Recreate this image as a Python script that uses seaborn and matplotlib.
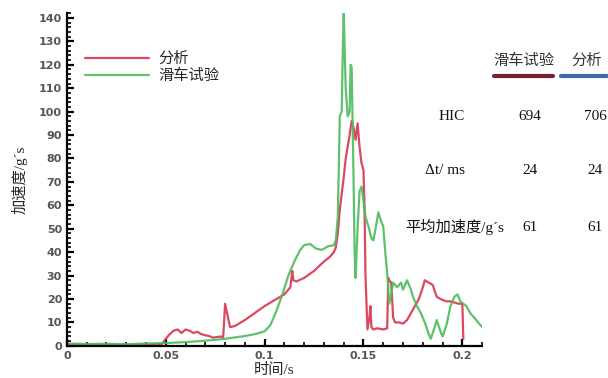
import pandas as pd
import seaborn as sns
import matplotlib.pyplot as plt
from matplotlib.lines import Line2D
from matplotlib.ticker import MultipleLocator

# sled test curve (green)
test_t = [0, 0.01, 0.02, 0.03, 0.04, 0.05, 0.06, 0.07, 0.08, 0.085, 0.09, 0.095, 0.1,
          0.103, 0.106, 0.109, 0.112, 0.115, 0.118, 0.12, 0.123, 0.126, 0.129, 0.132,
          0.135, 0.136, 0.137, 0.1375, 0.138, 0.139, 0.1395, 0.14, 0.1405, 0.141, 0.142,
          0.143, 0.1435, 0.144, 0.1445, 0.145, 0.1455, 0.146, 0.147, 0.148, 0.149, 0.15,
          0.151, 0.1525, 0.154, 0.155, 0.1565, 0.1575, 0.159, 0.16, 0.161, 0.162, 0.163,
          0.164, 0.165, 0.167, 0.169, 0.17, 0.172, 0.174, 0.175, 0.177, 0.179, 0.181,
          0.183, 0.184, 0.186, 0.187, 0.189, 0.19, 0.192, 0.194, 0.196, 0.1975, 0.199,
          0.2005, 0.202, 0.204, 0.206, 0.208, 0.21]
test_acc = [1, 0.8, 0.9, 0.7, 1.0, 1.2, 1.6, 2.2, 3.0, 3.6, 4.2, 5.0, 6.2,
            9, 15, 22, 30, 36, 41, 43, 43.5, 41.5, 41, 42.5,
            43, 45, 55, 75, 98, 100, 125, 142, 126, 110, 98,
            100, 120, 119, 95, 70, 40, 29, 50, 66, 68, 62,
            55, 51, 46, 45, 52, 57, 53, 51, 40, 31, 18,
            22, 27, 25, 27, 24, 28, 24, 21, 17, 14, 10,
            5, 3, 8, 11, 6, 4, 9, 17, 21, 22, 19,
            18, 17, 14, 12, 10, 8]

# simulation curve (red)
sim_t = [0, 0.01, 0.02, 0.03, 0.04, 0.048, 0.05, 0.052, 0.054, 0.056, 0.058, 0.06,
         0.062, 0.064, 0.066, 0.068, 0.07, 0.072, 0.074, 0.076, 0.078, 0.079, 0.0795,
         0.08, 0.081, 0.0825, 0.085, 0.09, 0.095, 0.1, 0.105, 0.11, 0.113, 0.114,
         0.1145, 0.116, 0.12, 0.125, 0.13, 0.133, 0.135, 0.136, 0.137, 0.138, 0.139,
         0.14, 0.141, 0.142, 0.143, 0.144, 0.145, 0.146, 0.147, 0.148, 0.149, 0.15,
         0.1505, 0.151, 0.152, 0.153, 0.1535, 0.154, 0.155, 0.157, 0.16, 0.162, 0.1625,
         0.163, 0.164, 0.165, 0.166, 0.168, 0.17, 0.172, 0.174, 0.176, 0.178, 0.18,
         0.181, 0.183, 0.185, 0.187, 0.189, 0.19, 0.192, 0.194, 0.196, 0.198, 0.1995,
         0.2, 0.2005]
sim_acc = [0.5, 0.4, 0.5, 0.4, 0.5, 0.8, 3, 5, 6.5, 7, 5.5, 7,
           6.5, 5.5, 6, 5, 4.5, 4.2, 3.5, 3.8, 4, 3.5, 10,
           18, 14, 8, 8.5, 11, 14, 17, 19.5, 22, 25, 32,
           28, 27.5, 29, 32, 36, 38, 40, 42, 48, 58, 65,
           72, 80, 85, 90, 96, 93, 88, 95, 85, 78, 75,
           60, 30, 7, 12, 17, 8, 7, 7.5, 7, 7.5, 29,
           28, 27, 12, 10, 10, 9.5, 11, 14, 17, 20, 25,
           28, 27, 26, 21, 20, 19.6, 19, 19, 18.5, 18, 18,
           17.5, 3]

# table on the right
table_cols = ["滑车试验", "分析"]
table_rows = ["HIC", "Δt/ ms", "平均加速度/g´s"]
table_test = ["694", "24", "61"]
table_sim = ["706", "24", "61"]

sns.set_style("ticks")
plt.rcParams['font.family'] = ['Noto Sans CJK SC', 'DejaVu Sans']

red = "#d8344f"
green = "#4cbb5c"

fig = plt.figure(figsize=(6.08, 3.78), dpi=100)
ax = fig.add_axes([0.110, 0.085, 0.683, 0.880])

sim = pd.DataFrame({"t": sim_t, "acc": sim_acc})
test = pd.DataFrame({"t": test_t, "acc": test_acc})
sns.lineplot(data=sim, x="t", y="acc", sort=False, estimator=None, color=red,
             lw=1.6, alpha=0.9, ax=ax, label="分析")
sns.lineplot(data=test, x="t", y="acc", sort=False, estimator=None, color=green,
             lw=1.6, alpha=0.9, ax=ax, label="滑车试验")

ax.set_xlim(0, 0.21)
ax.set_ylim(0, 142)
ax.xaxis.set_major_locator(MultipleLocator(0.05))
ax.xaxis.set_minor_locator(MultipleLocator(0.01))
ax.yaxis.set_major_locator(MultipleLocator(10))
ax.yaxis.set_minor_locator(MultipleLocator(2))
ax.set_xticks([0, 0.05, 0.1, 0.15, 0.2])
ax.set_xticklabels(["0", "0.05", "0.1", "0.15", "0.2"])
ax.tick_params(which="major", direction="in", length=5, width=1.6, colors="black",
               labelcolor="#555555", labelsize=8)
ax.tick_params(which="minor", direction="in", length=3, width=1.2, colors="black")
for lab in ax.get_xticklabels() + ax.get_yticklabels():
    lab.set_fontweight("bold")
    lab.set_family("DejaVu Sans")
for s in ["top", "right"]:
    ax.spines[s].set_visible(False)
for s in ["left", "bottom"]:
    ax.spines[s].set_linewidth(1.6)
    ax.spines[s].set_color("black")

serif = ["Liberation Serif", "Noto Sans CJK SC"]
ax.set_xlabel("时间/s", fontsize=11, family=serif)
ax.xaxis.label.set_va("center")
ax.xaxis.set_label_coords(0.5, -0.072)
ax.set_ylabel("加速度/g´s", fontsize=11, family=serif)
ax.yaxis.label.set_va("center")
ax.yaxis.set_label_coords(-0.113, 0.5)

ax.legend(loc="upper left", bbox_to_anchor=(0.01, 0.93), frameon=False, fontsize=11,
          handlelength=4.2, handletextpad=0.6, labelspacing=0.0)

W, H = 608, 378
def ft(x, y, s, **kw):
    fig.text(x / W, 1 - y / H, s, ha="center", va="center", **kw)

ft(524, 60, table_cols[0], fontsize=11, color="#333333")
ft(587, 60, table_cols[1], fontsize=11, color="#333333")
fig.add_artist(Line2D([494 / W, 553 / W], [1 - 76 / H] * 2, color="#7a1f2e", lw=3))
fig.add_artist(Line2D([561 / W, 607 / W], [1 - 76 / H] * 2, color="#3d6aa3", lw=3))

row_y = [116, 170, 227]
label_x = [452, 445, 455]
for i in range(3):
    ft(label_x[i], row_y[i], table_rows[i], fontsize=11, family=serif, color="#111111")
    ft(530, row_y[i], table_test[i], fontsize=11, family=serif, color="#111111")
    ft(595, row_y[i], table_sim[i], fontsize=11, family=serif, color="#111111")

fig.savefig("out.png", dpi=100)
